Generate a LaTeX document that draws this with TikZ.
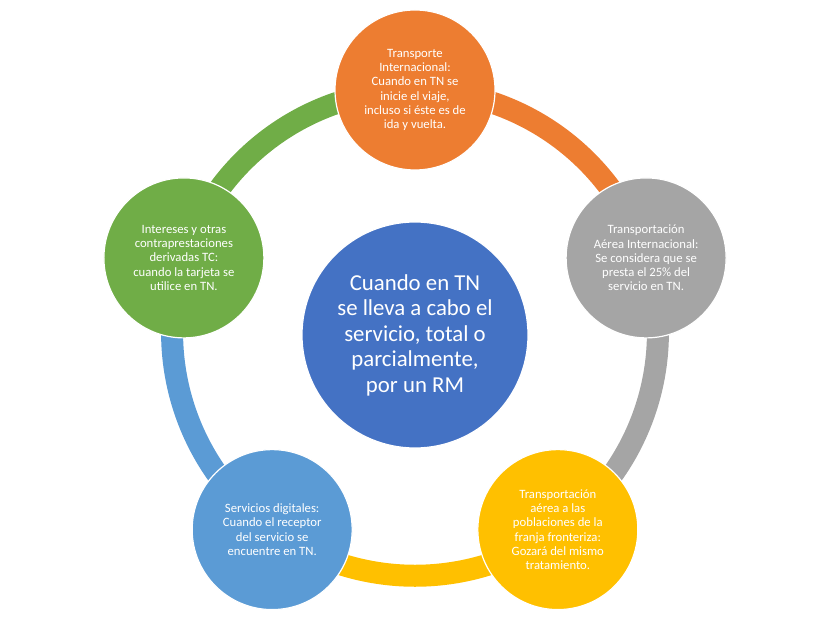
\documentclass[tikz,border=0pt]{standalone}
\usepackage{fontspec}
\setmainfont{Carlito}
\usetikzlibrary{backgrounds}
\definecolor{naranja}{HTML}{ED7D31}
\definecolor{gris}{HTML}{A5A5A5}
\definecolor{amarillo}{HTML}{FFC000}
\definecolor{azulclaro}{HTML}{5B9BD5}
\definecolor{verde}{HTML}{70AD47}
\definecolor{azul}{HTML}{4472C4}
\begin{document}
\begin{tikzpicture}[x=1pt, y=1pt,
  caso/.style={circle, draw=white, line width=1.2pt, minimum size=160pt, inner sep=0pt,
    text=white, align=center, font=\fontsize{12.7}{14.2}\selectfont},
  aro/.style={line width=22pt, bend left=36, looseness=0.94}]

\useasboundingbox (0,0) rectangle (813,627);

\begin{scope}[shift={(415,294)}]
\node[circle, draw=white, line width=1.2pt, minimum size=226pt, inner sep=0pt, fill=azul,
  text=white, align=center, font=\fontsize{22.8}{25.5}\selectfont] (centro) at (0,-2)
  {Cuando en TN\\se lleva a cabo el\\servicio, total o\\parcialmente,\\por un RM};

\node[caso, fill=naranja] (transporte) at (90:243)
  {Transporte\\Internacional:\\Cuando en TN se\\inicie el viaje,\\incluso si éste es de\\ida y vuelta.};
\node[caso, fill=gris] (aerea) at (18:243)
  {Transportación\\Aérea Internacional:\\Se considera que se\\presta el 25\% del\\servicio en TN.};
\node[caso, fill=amarillo] (frontera) at (-54:243)
  {Transportación\\aérea a las\\poblaciones de la\\franja fronteriza:\\Gozará del mismo\\tratamiento.};
\node[caso, fill=azulclaro] (digitales) at (-126:243)
  {Servicios digitales:\\Cuando el receptor\\del servicio se\\encuentre en TN.};
\node[caso, fill=verde] (intereses) at (162:243)
  {Intereses y otras\\contraprestaciones\\derivadas TC:\\cuando la tarjeta se\\utilice en TN.};
\end{scope}

% arcs of the cycle
\begin{scope}[on background layer]
\draw[aro, naranja] (transporte.center) to (aerea.center);
\draw[aro, gris] (aerea.center) to (frontera.center);
\draw[aro, amarillo] (frontera.center) to (digitales.center);
\draw[aro, azulclaro] (digitales.center) to (intereses.center);
\draw[aro, verde] (intereses.center) to (transporte.center);
\end{scope}
\end{tikzpicture}
\end{document}
